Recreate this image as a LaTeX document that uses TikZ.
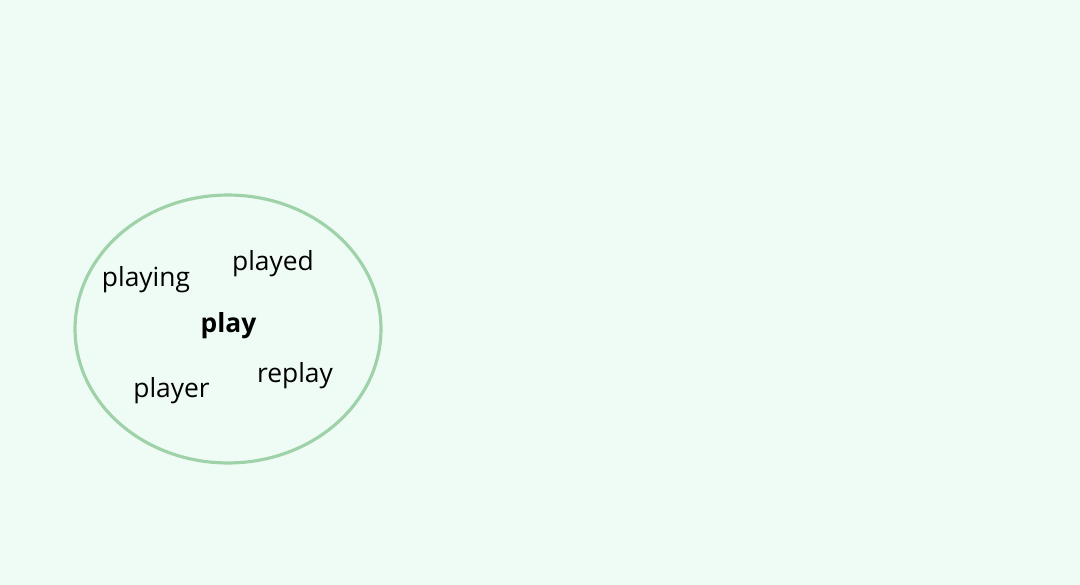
\documentclass[tikz,border=0pt]{standalone}
\usepackage{fontspec}
\setmainfont{Open Sans}
\usepackage{xcolor}
\usepackage{tikz}
\usetikzlibrary{positioning,shapes.geometric}
\definecolor{mintbg}{HTML}{EEFCF5}
\definecolor{ringgreen}{HTML}{9FD2A8}
\tikzset{
  word/.style={anchor=base, inner sep=0pt, font=\fontsize{15}{17}\selectfont},
  root/.style={word, font=\fontsize{15}{17}\selectfont\bfseries},
  ring/.style={draw=ringgreen, line width=1.8pt, ellipse, inner sep=0pt}
}

\begin{document}
\begin{tikzpicture}[x=0.02cm,y=-0.02cm]
            % Background and word family ring
            \fill[mintbg] (0,0) rectangle (1080,585);
            \useasboundingbox (0,0) rectangle (1080,585);
            \node[ring, minimum width=6.12cm, minimum height=5.36cm] (family) at (228,329) {};
            \node[root] (play) at (228.5,332) {play};
            \node[word] (playing) at (146,286) {playing};
            \node[word] (played) at (273,270) {played};
            \node[word] (player) at (171.5,397) {player};
            \node[word] (replay) at (295,382) {replay};
\end{tikzpicture}
\end{document}
